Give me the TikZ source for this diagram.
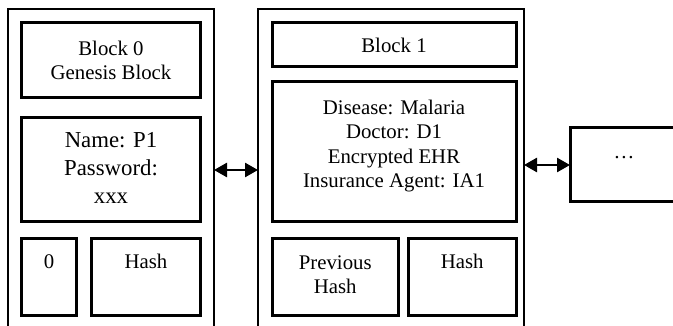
\documentclass[tikz,border=0pt]{standalone}
\usepackage{fontspec}
\setmainfont{Liberation Serif}
\usetikzlibrary{arrows.meta}
\begin{document}
\begin{tikzpicture}[x=1pt,y=-1pt,
  blockframe/.style={draw, line width=2.2pt, anchor=north west, inner sep=0pt, outer sep=0pt},
  field/.style={draw, line width=3pt, anchor=north west, inner sep=0pt, outer sep=0pt},
  txt/.style={align=center, inner sep=0pt, font=\fontsize{20.8}{24.5}\selectfont},
  bigtxt/.style={align=center, inner sep=0pt, font=\fontsize{22.8}{28}\selectfont},
  link/.style={{Triangle[length=13pt,width=14pt]}-{Triangle[length=13pt,width=14pt]}, line width=2.6pt}
]
\clip (0,0) rectangle (673,326);

% outer frames of the blocks (open towards the bottom / right)
\node[blockframe, minimum width=206pt, minimum height=340pt] (b0) at (8,9) {};
\node[blockframe, minimum width=266pt, minimum height=340pt] (b1) at (258,9) {};
\node[field, minimum width=140pt, minimum height=74pt] (more) at (570,128) {};

% fields of block 0
\node[field, minimum width=179pt, minimum height=75pt]  (f0a) at (21.5,23) {};
\node[field, minimum width=179pt, minimum height=104pt] (f0b) at (21.5,118) {};
\node[field, minimum width=55pt,  minimum height=76pt]  (f0c) at (21.5,239) {};
\node[field, minimum width=109pt, minimum height=76pt]  (f0d) at (91.5,239) {};

% fields of block 1
\node[field, minimum width=244pt,   minimum height=44pt]  (f1a) at (272,23) {};
\node[field, minimum width=244pt,   minimum height=140pt] (f1b) at (272,82) {};
\node[field, minimum width=126.5pt, minimum height=76pt]  (f1c) at (272,239) {};
\node[field, minimum width=107.5pt, minimum height=76pt]  (f1d) at (408.5,239) {};

% texts
\node[txt] (t0a) at (f0a.center) {Block 0\\Genesis Block};
\node[bigtxt] (t0b) at (f0b.center |- 0,168) {Name: P1\\Password:\\xxx};
\node[txt, anchor=base] (t0c) at (f0c.center |- 0,269) {0};
\node[txt, anchor=base] (t0d) at (f0d.center |- 0,269) {Hash};

\node[txt] (t1a) at (f1a.center) {Block 1};
\node[txt] (t1b) at (f1b.center |- 0,146) {Disease: Malaria\\Doctor: D1\\Encrypted EHR\\Insurance Agent: IA1};
\node[txt, anchor=base] (t1c) at (f1c.center |- 0,294) {Previous\\Hash};
\node[txt, anchor=base] (t1d) at (f1d.center |- 0,269) {Hash};

\node[txt, anchor=base] (tm) at (624,159) {\dots};

% links between blocks
\draw[link] (b0.east |- 0,170) -- (b1.west |- 0,170);
\draw[link] (b1.east |- 0,165) -- (more.west |- 0,165);
\end{tikzpicture}
\end{document}
